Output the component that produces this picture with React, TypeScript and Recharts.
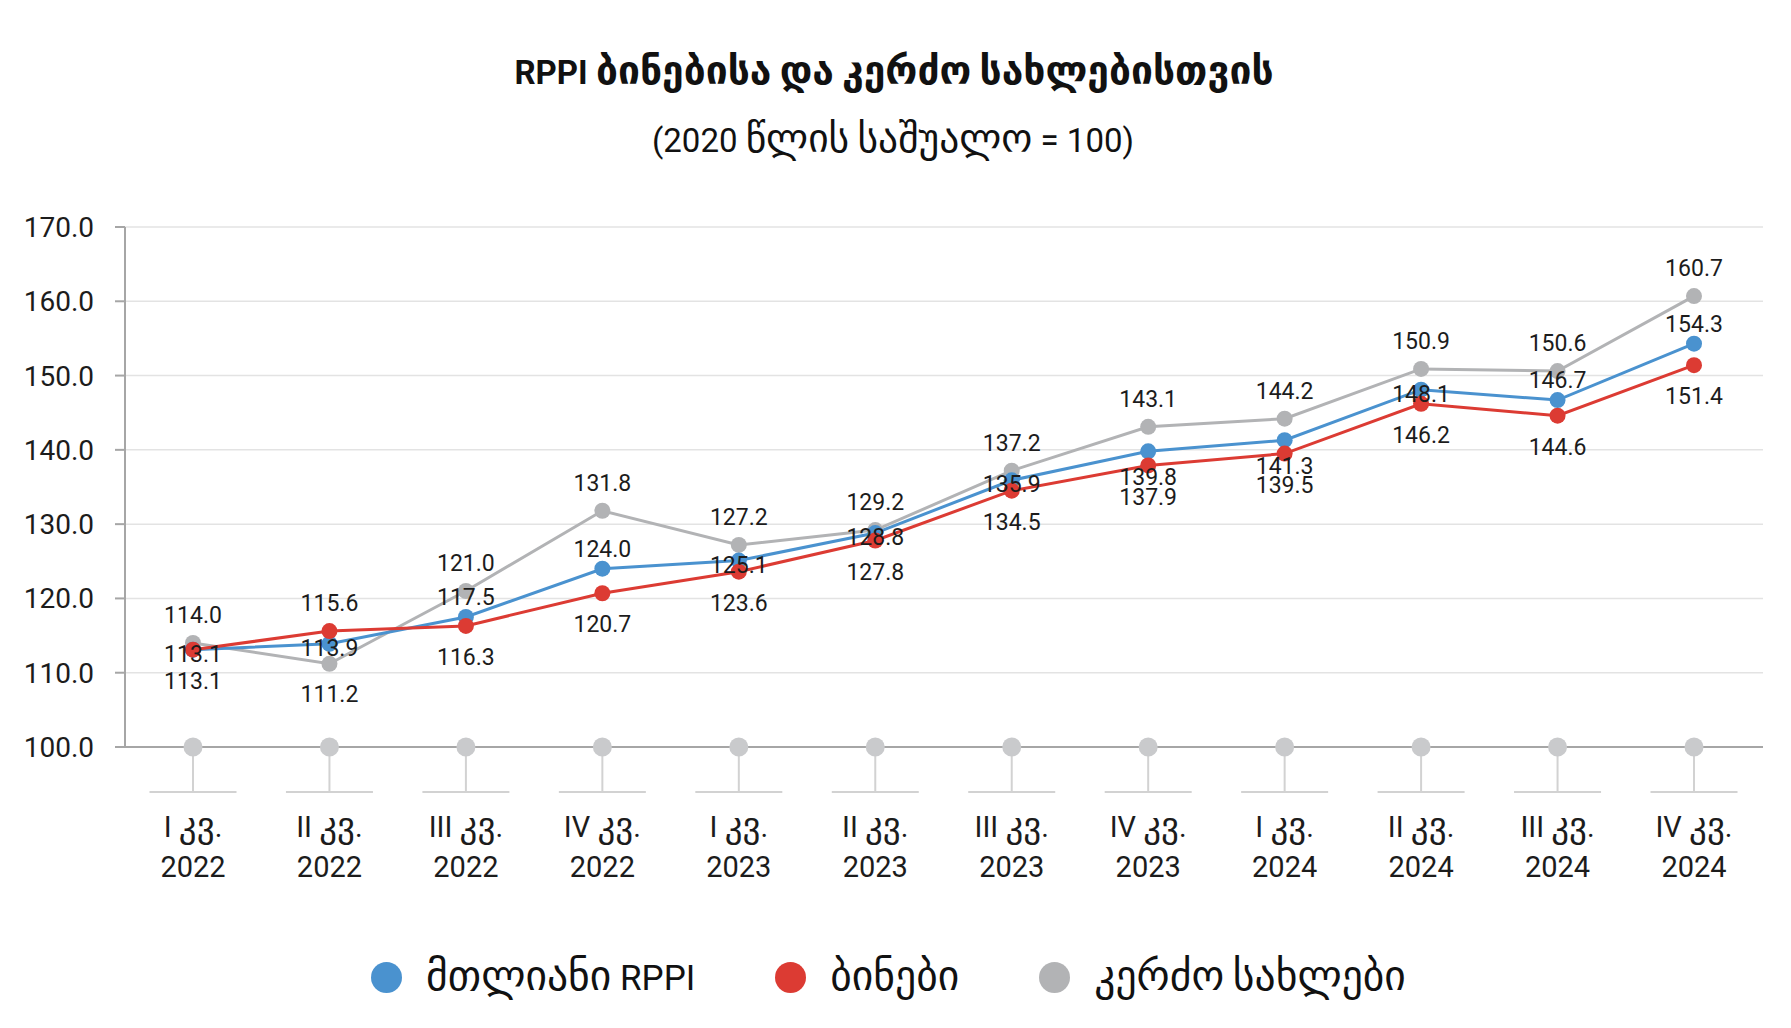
import React from 'react';
import { LineChart, Line, XAxis, YAxis, CartesianGrid, LabelList } from 'recharts';

const FONT = "Roboto, 'DejaVu Sans', sans-serif";

// quarters (label split into two lines at the last space)
const categories = [
  'I კვ. 2022', 'II კვ. 2022', 'III კვ. 2022', 'IV კვ. 2022',
  'I კვ. 2023', 'II კვ. 2023', 'III კვ. 2023', 'IV კვ. 2023',
  'I კვ. 2024', 'II კვ. 2024', 'III კვ. 2024', 'IV კვ. 2024',
];
const totalRppi = [113.1, 113.9, 117.5, 124.0, 125.1, 128.8, 135.9, 139.8, 141.3, 148.1, 146.7, 154.3];
const apartments = [113.1, 115.6, 116.3, 120.7, 123.6, 127.8, 134.5, 137.9, 139.5, 146.2, 144.6, 151.4];
const houses = [114.0, 111.2, 121.0, 131.8, 127.2, 129.2, 137.2, 143.1, 144.2, 150.9, 150.6, 160.7];
const yTicks = [100, 110, 120, 130, 140, 150, 160, 170];

const seriesNames = ['მთლიანი RPPI', 'ბინები', 'კერძო სახლები'];
const titleText = 'RPPI ბინებისა და კერძო სახლებისთვის';
const subtitleText = '(2020 წლის საშუალო = 100)';

// where each value label sits relative to its point
const totalPlace = ['on', 'on', 'above', 'above', 'on', 'on', 'on', 'below', 'below', 'on', 'above', 'above'];
const apartmentsPlace = ['below', 'above', 'below', 'below', 'below', 'below', 'below', 'below', 'below', 'below', 'below', 'below'];
const housesPlace = ['above', 'below', 'above', 'above', 'above', 'above', 'above', 'above', 'above', 'above', 'above', 'above'];

const BLUE = '#4a92cf';
const RED = '#dc3b33';
const GRAY = '#b2b3b5';

const chartData = categories.map((cat, i) => ({
  cat,
  total: totalRppi[i],
  apartments: apartments[i],
  houses: houses[i],
}));

// the Georgian fallback font is smaller than the original one, so Georgian runs get a bigger size
const splitGeo = (s: string) => {
  const runs: { text: string; geo: boolean }[] = [];
  const re = /[\u10A0-\u10FF]+/g;
  let last = 0;
  let m: RegExpExecArray | null;
  while ((m = re.exec(s))) {
    if (m.index > last) runs.push({ text: s.slice(last, m.index), geo: false });
    runs.push({ text: m[0], geo: true });
    last = m.index + m[0].length;
  }
  if (last < s.length) runs.push({ text: s.slice(last), geo: false });
  return runs;
};

const geoTspans = (s: string, size: number, geoSize: number) =>
  splitGeo(s).map((r, i) => (
    <tspan key={i} fontSize={r.geo ? geoSize : size}>
      {r.text}
    </tspan>
  ));

const shiftFor = (place: string, aboveShift: number, belowShift: number) =>
  place === 'above' ? aboveShift : place === 'below' ? belowShift : 4;

const makeLabel = (values: number[], places: string[], aboveShift: number, belowShift: number) => (props: any) => {
  const { x, y, value } = props;
  let idx = typeof props.index === 'number' ? props.index : values.indexOf(Number(value));
  if (idx < 0) idx = 0;
  const dy = shiftFor(places[idx], aboveShift, belowShift);
  return (
    <text
      x={x}
      y={y + dy}
      dy="0.35em"
      textAnchor="middle"
      fontSize={23}
      fontFamily={FONT}
      fill="#1c1c1c"
    >
      {Number(value).toFixed(1)}
    </text>
  );
};

const QuarterTick = (props: any) => {
  const { x, y, payload } = props;
  const label: string = payload.value;
  const cut = label.lastIndexOf(' ');
  return (
    <g>
      <line x1={x} y1={y} x2={x} y2={y + 45} stroke="#d2d2d2" strokeWidth={2} />
      <line x1={x - 43.5} y1={y + 45} x2={x + 43.5} y2={y + 45} stroke="#d2d2d2" strokeWidth={2} />
      <circle cx={x} cy={y} r={9.5} fill="#c9cacc" />
      <text x={x} y={y + 90} textAnchor="middle" fontSize={29} fontFamily={FONT} fill="#1c1c1c">
        {geoTspans(label.slice(0, cut), 29, 35)}
      </text>
      <text x={x} y={y + 130} textAnchor="middle" fontSize={29} fontFamily={FONT} fill="#1c1c1c">
        {label.slice(cut + 1)}
      </text>
    </g>
  );
};

const LegendRow = () => {
  const colors = [BLUE, RED, GRAY];
  return (
    <div
      style={{
        position: 'absolute',
        left: 0,
        width: 1791,
        top: 957,
        height: 40,
        display: 'flex',
        justifyContent: 'center',
        alignItems: 'center',
        fontFamily: FONT,
        fontSize: 35,
        color: '#111',
        paddingRight: 14,
        boxSizing: 'border-box',
      }}
    >
      {seriesNames.map((name, i) => (
        <div key={name} style={{ display: 'flex', alignItems: 'center', marginLeft: i === 0 ? 0 : 80 }}>
          <span
            style={{
              width: 31,
              height: 31,
              borderRadius: '50%',
              background: colors[i],
              display: 'inline-block',
              marginRight: 24,
            }}
          />
          <span style={{ lineHeight: '40px', whiteSpace: 'pre' }}>
            {splitGeo(name).map((r, j) => (
              <span key={j} style={{ fontSize: r.geo ? 41.6 : 35 }}>
                {r.text}
              </span>
            ))}
          </span>
        </div>
      ))}
    </div>
  );
};

export default function App() {
  return (
    <div style={{ position: 'absolute', left: 0, top: 0, width: 1791, height: 1028, background: '#fff' }}>
      <LineChart
        width={1791}
        height={1028}
        data={chartData}
        margin={{ top: 227, right: 28, bottom: 81, left: 25 }}
      >
        <text x={894} y={84} textAnchor="middle" fontWeight="bold" fontFamily={FONT} fill="#111">
          {geoTspans(titleText, 33, 39)}
        </text>
        <text x={893} y={152} textAnchor="middle" fontFamily={FONT} fill="#111">
          {geoTspans(subtitleText, 33, 39.5)}
        </text>
        <CartesianGrid vertical={false} stroke="#e3e3e3" strokeWidth={1.5} />
        <XAxis
          dataKey="cat"
          height={200}
          interval={0}
          padding={{ left: 68, right: 69 }}
          tickSize={0}
          tickMargin={0}
          tickLine={false}
          axisLine={{ stroke: '#a6a6a6', strokeWidth: 2 }}
          tick={<QuarterTick />}
        />
        <YAxis
          width={100}
          domain={[100, 170]}
          ticks={yTicks}
          allowDataOverflow
          tickSize={10}
          tickMargin={21}
          tickFormatter={(v: number) => v.toFixed(1)}
          axisLine={{ stroke: '#a6a6a6', strokeWidth: 2 }}
          tickLine={{ stroke: '#a6a6a6', strokeWidth: 2 }}
          tick={{ fontSize: 28, fill: '#1c1c1c', fontFamily: FONT }}
        />
        <Line
          dataKey="houses"
          stroke={GRAY}
          strokeWidth={3}
          dot={{ r: 8, fill: GRAY, stroke: 'none' }}
          activeDot={false}
          isAnimationActive={false}
        >
          <LabelList dataKey="houses" content={makeLabel(houses, housesPlace, -28, 30)} />
        </Line>
        <Line
          dataKey="total"
          stroke={BLUE}
          strokeWidth={3}
          dot={{ r: 8, fill: BLUE, stroke: 'none' }}
          activeDot={false}
          isAnimationActive={false}
        >
          <LabelList dataKey="total" content={makeLabel(totalRppi, totalPlace, -20, 26)} />
        </Line>
        <Line
          dataKey="apartments"
          stroke={RED}
          strokeWidth={3}
          dot={{ r: 8, fill: RED, stroke: 'none' }}
          activeDot={false}
          isAnimationActive={false}
        >
          <LabelList dataKey="apartments" content={makeLabel(apartments, apartmentsPlace, -28, 31)} />
        </Line>
      </LineChart>
      <LegendRow />
    </div>
  );
}
